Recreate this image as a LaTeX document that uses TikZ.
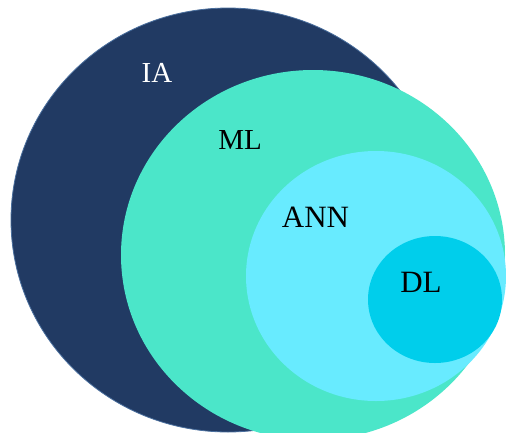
\documentclass[tikz,border=0pt]{standalone}
\usepackage{fontspec}
\setmainfont{Liberation Serif}
\definecolor{iacol}{HTML}{213A63}
\definecolor{iaedge}{HTML}{4A6F9E}
\definecolor{mlcol}{HTML}{4BE6C9}
\definecolor{anncol}{HTML}{68EBFF}
\definecolor{dlcol}{HTML}{00CEEB}
\begin{document}
\begin{tikzpicture}[x=1pt,y=-1pt,
  lab/.style={inner sep=0pt,anchor=base,font=\fontsize{31}{32}\selectfont}]
\useasboundingbox[fill=white] (0,0) rectangle (506,432);
\begin{scope}
\clip (0,0) rectangle (506,432);
\fill[iacol,draw=iaedge,line width=0.8pt] (228,220) ellipse [x radius=217, y radius=212];
\fill[mlcol] (313,255) ellipse [x radius=192, y radius=185];
\fill[anncol] (376,276) ellipse [x radius=130, y radius=125];
\fill[dlcol] (435,299.5) ellipse [x radius=67, y radius=63.5];
\end{scope}
\node[lab,text=white,font=\fontsize{29}{30}\selectfont] (ia) at (157,82) {IA};
\node[lab,font=\fontsize{29}{30}\selectfont] (ml) at (240,149) {ML};
\node[lab] (ann) at (315.5,227) {ANN};
\node[lab] (dl) at (421,292) {DL};
\end{tikzpicture}
\end{document}
